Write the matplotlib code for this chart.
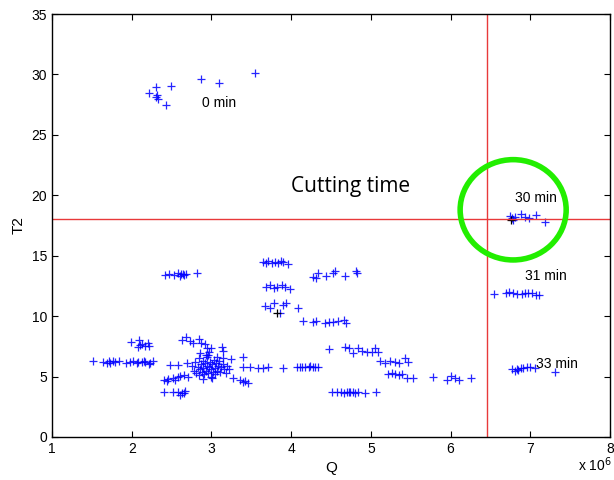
import matplotlib
matplotlib.use("Agg")
import matplotlib.pyplot as plt
from matplotlib.patches import Ellipse

# ---- data (Q in units of 1e6, T2) ----
q_0min = [2.22, 2.30, 2.49, 2.31, 2.33, 2.43, 2.87, 3.10, 3.55, 2.32]
t_0min = [28.5, 28.97, 29.06, 28.15, 28.0, 27.5, 29.6, 29.3, 30.1, 28.3]

q_30min = [6.75, 6.78, 6.81, 6.88, 6.93, 6.98, 7.07, 7.19, 6.77]
t_30min = [18.28, 17.95, 18.22, 18.44, 18.22, 18.14, 18.39, 17.76, 18.1]

q_31min = [6.54, 6.70, 6.73, 6.78, 6.83, 6.89, 6.93, 6.97, 7.02, 7.07, 7.11]
t_31min = [11.8, 11.88, 12.02, 11.88, 11.83, 11.8, 11.88, 11.94, 11.94, 11.74, 11.74]

q_33min = [6.77, 6.81, 6.85, 6.88, 6.91, 6.96, 7.00, 7.06, 7.31, 6.83]
t_33min = [5.6, 5.46, 5.54, 5.68, 5.68, 5.76, 5.76, 5.68, 5.35, 5.6]

q_mid = [
    # T2 ~13.5 cluster
    2.42, 2.47, 2.53, 2.58, 2.62, 2.65, 2.68, 2.82, 2.60, 2.64,
    # T2 ~7.7 cluster left
    1.99, 2.09, 2.10, 2.17, 2.22, 2.08, 2.13, 2.20,
    # T2 ~6.2 line
    1.52, 1.64, 1.69, 1.71, 1.73, 1.77, 1.79, 1.84, 1.93, 1.98, 2.02, 2.06,
    2.08, 2.15, 2.22, 2.27, 2.13, 2.17, 2.23,
    # ~8 top of main cluster
    2.63, 2.68, 2.73, 2.77, 2.84, 2.87, 2.92, 2.94, 3.00, 3.13, 2.86, 2.96,
    3.07, 3.15, 3.25, 3.40, 3.15,
    # dense center
    2.76, 2.78, 2.80, 2.81, 2.83, 2.84, 2.85, 2.86, 2.87, 2.88, 2.89, 2.90,
    2.91, 2.92, 2.93, 2.94, 2.95, 2.96, 2.97, 2.98, 2.99, 3.00, 3.01, 3.02,
    3.03, 3.04, 3.05, 3.06, 3.07, 3.08, 3.10, 3.11, 3.12, 3.14, 3.16, 3.18,
    3.20, 3.22, 2.93, 2.97, 3.01, 2.89,
    # left of dense
    2.48, 2.58, 2.69,
    # lower-left of dense
    2.40, 2.46, 2.52, 2.58, 2.65, 2.71, 2.44, 2.54, 2.61,
    # bottom ~3.7
    2.40, 2.52, 2.58, 2.63, 2.67, 2.60, 2.65,
    # right of dense ~5.7
    3.40, 3.48, 3.59, 3.65, 3.71, 3.90,
    3.27, 3.36, 3.40, 3.46, 3.42,
    # T2 ~14.4
    3.65, 3.69, 3.71, 3.76, 3.80, 3.84, 3.87, 3.90, 3.96,
    # T2 ~13.3 right
    4.28, 4.31, 4.34, 4.44, 4.53, 4.55, 4.68, 4.81, 4.82,
    # T2 ~12.4
    3.69, 3.74, 3.78, 3.82, 3.88, 3.92, 3.98,
    # T2 ~10.8
    3.67, 3.74, 3.78, 3.86, 3.90, 3.94, 4.08,
    # T2 ~9.5
    4.15, 4.28, 4.31, 4.43, 4.47, 4.53, 4.59, 4.66, 4.69,
    # T2 ~5.8 middle
    4.07, 4.13, 4.17, 4.22, 4.28, 4.34, 4.11, 4.24, 4.30,
    # T2 ~7.2
    4.47, 4.68, 4.72, 4.78, 4.84, 4.89, 4.95, 5.01, 5.05, 5.09,
    # T2 ~6.3
    5.12, 5.18, 5.24, 5.30, 5.35, 5.43, 5.46,
    # T2 ~5.1
    5.22, 5.26, 5.30, 5.35, 5.39, 5.45, 5.53,
    # T2 ~4.8
    5.78, 5.95, 6.01, 6.06, 6.10, 6.25,
    # T2 ~3.7
    4.51, 4.57, 4.63, 4.70, 4.74, 4.78, 4.84, 4.93, 5.07, 4.66, 4.72, 4.80,
]
t_mid = [
    13.4, 13.5, 13.4, 13.6, 13.5, 13.4, 13.5, 13.6, 13.3, 13.5,
    7.83, 8.02, 7.6, 7.55, 7.55, 7.47, 7.7, 7.8,
    6.29, 6.2, 6.1, 6.25, 6.1, 6.29, 6.2, 6.29, 6.1, 6.2, 6.29, 6.1,
    6.2, 6.29, 6.0, 6.29, 6.23, 6.23, 6.15,
    8.02, 8.25, 7.97, 7.75, 8.08, 7.8, 7.7, 7.34, 7.34, 7.42, 6.92, 6.78,
    6.64, 6.51, 6.45, 6.59, 7.1,
    5.9, 5.5, 6.2, 5.3, 5.8, 6.5, 5.1, 5.6, 6.0, 5.4, 6.3, 5.7,
    5.2, 6.1, 5.5, 5.9, 6.6, 5.3, 5.8, 6.2, 5.6, 5.0, 6.0, 5.4,
    6.4, 5.7, 5.2, 6.1, 5.5, 5.9, 6.3, 5.4, 5.8, 6.0, 5.6, 5.3,
    5.9, 5.6, 6.8, 7.0, 4.9, 4.8,
    5.96, 5.96, 6.1,
    4.71, 4.77, 4.86, 4.99, 5.13, 4.99, 4.6, 4.7, 5.05,
    3.75, 3.75, 3.75, 3.61, 3.83, 3.5, 3.6,
    5.81, 5.76, 5.68, 5.68, 5.81, 5.68,
    4.86, 4.71, 4.57, 4.44, 4.6,
    14.5, 14.4, 14.6, 14.4, 14.5, 14.4, 14.6, 14.5, 14.3,
    13.26, 13.13, 13.59, 13.32, 13.59, 13.76, 13.32, 13.76, 13.6,
    12.43, 12.57, 12.30, 12.38, 12.57, 12.43, 12.22,
    10.84, 10.65, 11.11, 10.28, 10.92, 11.11, 10.65,
    9.59, 9.54, 9.62, 9.45, 9.54, 9.54, 9.59, 9.68, 9.45,
    5.81, 5.81, 5.76, 5.81, 5.76, 5.76, 5.81, 5.87, 5.81,
    7.25, 7.47, 7.34, 6.92, 7.34, 7.14, 7.06, 7.06, 7.34, 7.06,
    6.31, 6.15, 6.31, 6.23, 6.15, 6.51, 6.23,
    5.21, 5.27, 5.21, 5.13, 5.21, 4.86, 4.86,
    4.94, 4.71, 5.05, 4.86, 4.71, 4.86,
    3.75, 3.75, 3.75, 3.75, 3.75, 3.75, 3.75, 3.66, 3.75, 3.6, 3.7, 3.65,
]

q_black = [3.82, 6.76]
t_black = [10.3, 17.95]

cut_q = 6.455
cut_t = 18.0

xticks = [1, 2, 3, 4, 5, 6, 7, 8]
yticks = [0, 5, 10, 15, 20, 25, 30, 35]

plt.rcParams['font.family'] = ['Liberation Sans', 'DejaVu Sans']

fig = plt.figure(figsize=(6.14, 4.8), dpi=100)
ax = fig.add_axes([0.0847, 0.0896, 0.9088, 0.8812])

mk = dict(marker='+', linestyle='none', markersize=6, markeredgewidth=0.9)
for qs, ts in [(q_mid, t_mid), (q_0min, t_0min), (q_30min, t_30min),
               (q_31min, t_31min), (q_33min, t_33min)]:
    ax.plot(qs, ts, color='#0000ff', alpha=0.85, **mk)
ax.plot(q_black, t_black, color='black', **mk)

ax.axvline(cut_q, color='#e8393a', lw=1.0)
ax.axhline(cut_t, color='#e8393a', lw=1.0)

ax.set_xlim(1, 8)
ax.set_ylim(0, 35)

# green circle (drawn in data coords but sized to look round)
ell = Ellipse((6.785, 18.8), width=1.33, height=8.3, fill=False,
              edgecolor='#22ee00', lw=4.0, zorder=5)
ax.add_patch(ell)

ax.text(2.88, 27.6, '0 min', fontsize=10, va='center', ha='left')
ax.text(6.81, 19.75, '30 min', fontsize=10, va='center', ha='left')
ax.text(6.93, 13.3, '31 min', fontsize=10, va='center', ha='left')
ax.text(7.07, 6.05, '33 min', fontsize=10, va='center', ha='left')
ax.text(4.0, 20.7, 'Cutting time', fontsize=15, va='center', ha='left',
        family=['Open Sans', 'DejaVu Sans'])

ax.set_xticks(xticks)
ax.set_yticks(yticks)
ax.tick_params(direction='in', top=True, right=True, length=4, labelsize=10,
               width=0.8)
for s in ax.spines.values():
    s.set_linewidth(1.0)
ax.set_xlabel('Q', fontsize=11)
ax.set_ylabel('T2', fontsize=11)
fig.text(0.996, 0.012, r'x 10$^{6}$', fontsize=10, ha='right', va='bottom')

fig.savefig('out.png', dpi=100)
